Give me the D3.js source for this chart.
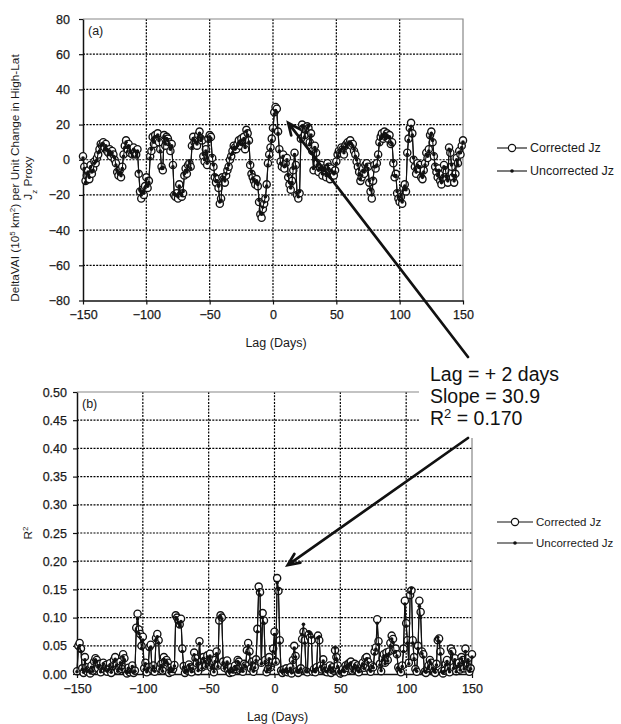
<!DOCTYPE html>
<html>
<head>
<meta charset="utf-8">
<script src="https://cdn.jsdelivr.net/npm/d3@7"></script>
<style>
body { margin: 0; background: #fff; }
svg { display: block; font-family: Arial, 'Liberation Sans', sans-serif; }
</style>
</head>
<body>
<svg id="chart" width="621" height="724"></svg>
<script>
// lag in days, one value per day
const lags = d3.range(-150, 151);

// panel (a): DeltaVAI per unit change, corrected / uncorrected Jz
const corrA = [
  2, -4, -12, -9, -6, -11, -3, -8, -5, -1,
  -2, 1, 3, 6, 9, 8, 10, 7, 9, 5,
  4, 6, 2, 5, 3, 0, -2, -7, -9, -6,
  -10, -4, 3, 8, 11, 6, 9, 4, 5, 3,
  7, 4, 3, 6, -8, -18, -22, -17, -20, -15,
  -10, -16, -12, 2, 5, 13, 9, 14, 12, 15,
  10, 6, -4, -6, 14, 8, 13, 12, 10, 5,
  9, -3, -20, -21, -19, -22, -14, -20, -21, -19,
  -9, -5, -8, -3, -2, -4, 8, 13, 10, 11,
  8, 14, 16, 12, 11, 2, -1, 6, -3, 12,
  14, 13, 1, -4, -10, -13, -11, -16, -25, -22,
  -10, -11, -13, -9, -6, -4, 0, 2, 5, 8,
  7, 6, 9, 11, 8, 12, 10, 13, 6, 17,
  15, 11, -3, -8, -10, -12, -14, -11, -15, -24,
  -31, -33, -28, -25, -22, -14, -2, 3, 7, 12,
  18, 27, 30, 29, 16, 6, -1, -4, 3, -5,
  -2, 1, -10, -14, -17, -12, -6, 4, -3, -20,
  -22, -19, 12, 20, 18, 14, 17, 19, 18, 10,
  15, 5, -6, 8, 4, -2, -7, -4, -3, -9,
  -5, -6, -10, -2, -4, -11, -5, -8, -9, -6,
  -1, 3, 5, 4, 7, 6, 3, 8, 9, 10,
  9, 11, 8, 9, 5, 3, -1, -4, -7, -12,
  -10, -5, -8, -3, -2, -4, -13, -18, -22, -12,
  -3, -5, -2, 3, 10, 13, 15, 12, 16, 13,
  15, 12, 14, 9, 10, -2, -10, -8, -19, -22,
  -24, -21, -25, -16, -14, -18, 4, 12, 18, 21,
  15, 0, -4, -8, -2, -5, -3, -10, -11, -6,
  -2, 4, 1, 6, 14, 16, 10, 2, -4, -7,
  -10, -5, -12, -14, -8, -3, -6, -11, -13, 7,
  4, -4, -10, -13, -8, 1, -2, 5, 3, 8,
  11
];
const uncorrA = [
  1, -5, -13, -8, -7, -10, -4, -7, -6, -2,
  -1, 0, 4, 5, 8, 9, 9, 6, 8, 6,
  3, 5, 3, 4, 2, 1, -3, -6, -8, -7,
  -9, -5, 2, 7, 10, 7, 8, 5, 4, 2,
  6, 5, 2, 5, -7, -17, -20, -18, -19, -16,
  -11, -15, -13, 1, 6, 12, 10, 13, 13, 14,
  11, 5, -5, -5, 13, 9, 12, 11, 9, 6,
  8, -4, -19, -20, -20, -21, -15, -19, -20, -18,
  -8, -6, -7, -4, -1, -5, 7, 12, 11, 10,
  9, 13, 15, 11, 12, 3, 0, 5, -2, 11,
  13, 12, 2, -3, -9, -12, -12, -15, -24, -23,
  -11, -10, -12, -8, -5, -3, 1, 3, 4, 7,
  6, 7, 8, 10, 9, 11, 9, 12, 7, 16,
  14, 10, -2, -7, -11, -11, -13, -12, -14, -23,
  -30, -31, -27, -24, -21, -15, -3, 2, 6, 11,
  17, 26, 28, 27, 15, 5, -2, -3, 2, -4,
  -3, 0, -9, -13, -16, -13, -5, 3, -4, -19,
  -21, -18, 11, 19, 19, 13, 16, 18, 19, 9,
  14, 4, -5, 7, 5, -3, -6, -5, -4, -8,
  -6, -5, -9, -3, -5, -10, -6, -7, -8, -7,
  -2, 2, 4, 5, 6, 7, 4, 7, 8, 9,
  10, 10, 9, 8, 6, 2, 0, -3, -8, -11,
  -9, -6, -7, -4, -3, -5, -12, -17, -20, -11,
  -4, -4, -3, 2, 9, 12, 14, 13, 15, 12,
  14, 13, 13, 10, 9, -1, -9, -9, -18, -21,
  -23, -20, -24, -17, -15, -17, 3, 11, 17, 19,
  14, 1, -5, -7, -3, -4, -4, -9, -10, -7,
  -3, 3, 2, 5, 13, 15, 11, 3, -3, -6,
  -9, -6, -11, -13, -9, -4, -5, -10, -12, 6,
  5, -3, -9, -12, -9, 0, -3, 4, 4, 7,
  10
];

// panel (b): R^2, corrected / uncorrected Jz
const corrB = [
  0.005, 0.05, 0.055, 0.045, 0.01, 0.002, 0.03, 0.012, 0.004, 0.008,
  0.001, 0.015, 0.006, 0.022, 0.028, 0.025, 0.01, 0.018, 0.003, 0.012,
  0.02, 0.008, 0.016, 0.004, 0.01, 0.019, 0.002, 0.014, 0.025, 0.03,
  0.018, 0.006, 0.012, 0.022, 0.009, 0.035, 0.028, 0.005, 0.001, 0.011,
  0.003, 0.007, 0.015, 0.002, 0.006, 0.082, 0.107, 0.079, 0.071, 0.05,
  0.066, 0.01, 0.02, 0.003, 0.012, 0.048, 0.052, 0.008, 0.015, 0.004,
  0.064, 0.071, 0.06, 0.01, 0.018, 0.006, 0.03, 0.022, 0.025, 0.02,
  0.002, 0.011, 0.004, 0.009, 0.016, 0.104, 0.1, 0.095, 0.088, 0.098,
  0.045, 0.014, 0.002, 0.008, 0.006, 0.017, 0.012, 0.003, 0.01, 0.038,
  0.028, 0.019, 0.005, 0.058, 0.022, 0.012, 0.03, 0.024, 0.015, 0.033,
  0.02, 0.036, 0.011, 0.018, 0.003, 0.025, 0.04, 0.015, 0.095, 0.104,
  0.1, 0.022, 0.011, 0.018, 0.024, 0.006, 0.002, 0.012, 0.003, 0.008,
  0.015, 0.009, 0.025, 0.022, 0.006, 0.012, 0.004, 0.018, 0.015, 0.042,
  0.055, 0.04, 0.01, 0.022, 0.004, 0.012, 0.026, 0.08, 0.155, 0.145,
  0.02, 0.108, 0.095, 0.025, 0.003, 0.009, 0.03, 0.012, 0.02, 0.045,
  0.075, 0.022, 0.17, 0.147, 0.06, 0.006, 0.002, 0.008, 0.004, 0.01,
  0.003, 0.006, 0.012, 0.001, 0.025, 0.05, 0.032, 0.005, 0.002, 0.008,
  0.01, 0.062, 0.075, 0.06, 0.005, 0.003, 0.07, 0.065, 0.06, 0.004,
  0.009, 0.003, 0.012, 0.068, 0.06, 0.015, 0.008, 0.026, 0.011, 0.004,
  0.003, 0.008, 0.015, 0.002, 0.012, 0.006, 0.042, 0.03, 0.015, 0.005,
  0.001, 0.004, 0.009, 0.003, 0.015, 0.011, 0.018, 0.02, 0.022, 0.006,
  0.012, 0.018, 0.008, 0.015, 0.003, 0.01, 0.016, 0.02, 0.011, 0.028,
  0.03, 0.022, 0.009, 0.004, 0.015, 0.012, 0.04, 0.047, 0.097, 0.058,
  0.018, 0.005, 0.028, 0.035, 0.02, 0.038, 0.025, 0.04, 0.055, 0.068,
  0.062, 0.042, 0.045, 0.035, 0.012, 0.008, 0.003, 0.015, 0.045, 0.13,
  0.09, 0.06, 0.02, 0.14, 0.148, 0.06, 0.03, 0.009, 0.004, 0.05,
  0.13, 0.11, 0.04, 0.035, 0.004, 0.002, 0.01, 0.015, 0.025, 0.02,
  0.012, 0.004, 0.002, 0.018, 0.06, 0.063, 0.04, 0.005, 0.001, 0.006,
  0.018, 0.025, 0.01, 0.003, 0.045, 0.04, 0.012, 0.028, 0.005, 0.015,
  0.02, 0.008, 0.03, 0.025, 0.01, 0.045, 0.015, 0.028, 0.004, 0.01,
  0.035
];
const uncorrB = [
  0.004, 0.045, 0.05, 0.04, 0.008, 0.003, 0.025, 0.01, 0.005, 0.006,
  0.002, 0.012, 0.005, 0.02, 0.025, 0.022, 0.012, 0.015, 0.004, 0.01,
  0.018, 0.007, 0.014, 0.005, 0.008, 0.016, 0.003, 0.012, 0.022, 0.026,
  0.015, 0.005, 0.01, 0.02, 0.008, 0.03, 0.025, 0.004, 0.002, 0.01,
  0.004, 0.006, 0.013, 0.003, 0.005, 0.075, 0.098, 0.072, 0.065, 0.045,
  0.06, 0.008, 0.018, 0.004, 0.01, 0.044, 0.048, 0.007, 0.013, 0.005,
  0.06, 0.066, 0.055, 0.009, 0.015, 0.005, 0.026, 0.02, 0.022, 0.018,
  0.003, 0.01, 0.005, 0.008, 0.014, 0.1, 0.097, 0.09, 0.085, 0.093,
  0.04, 0.012, 0.003, 0.007, 0.005, 0.015, 0.01, 0.004, 0.009, 0.034,
  0.025, 0.017, 0.006, 0.054, 0.02, 0.01, 0.027, 0.022, 0.013, 0.03,
  0.018, 0.032, 0.01, 0.016, 0.004, 0.022, 0.036, 0.013, 0.1, 0.102,
  0.098, 0.02, 0.01, 0.016, 0.021, 0.005, 0.003, 0.01, 0.004, 0.007,
  0.013, 0.008, 0.022, 0.02, 0.005, 0.01, 0.005, 0.016, 0.013, 0.038,
  0.05, 0.036, 0.009, 0.02, 0.005, 0.011, 0.024, 0.075, 0.148, 0.14,
  0.018, 0.1, 0.09, 0.022, 0.004, 0.008, 0.027, 0.01, 0.018, 0.04,
  0.07, 0.02, 0.162, 0.15, 0.055, 0.005, 0.003, 0.007, 0.005, 0.009,
  0.004, 0.005, 0.01, 0.002, 0.022, 0.046, 0.03, 0.004, 0.003, 0.007,
  0.009, 0.07, 0.088, 0.055, 0.004, 0.004, 0.075, 0.072, 0.065, 0.005,
  0.008, 0.004, 0.01, 0.064, 0.066, 0.013, 0.007, 0.023, 0.01, 0.005,
  0.004, 0.007, 0.013, 0.003, 0.01, 0.005, 0.046, 0.027, 0.013, 0.004,
  0.002, 0.005, 0.008, 0.004, 0.013, 0.01, 0.016, 0.018, 0.02, 0.005,
  0.01, 0.016, 0.007, 0.013, 0.004, 0.009, 0.014, 0.018, 0.01, 0.025,
  0.027, 0.02, 0.008, 0.005, 0.013, 0.011, 0.036, 0.044, 0.09, 0.052,
  0.016, 0.006, 0.025, 0.032, 0.018, 0.034, 0.023, 0.036, 0.05, 0.062,
  0.056, 0.038, 0.04, 0.032, 0.01, 0.007, 0.004, 0.013, 0.04, 0.124,
  0.085, 0.055, 0.018, 0.145, 0.152, 0.055, 0.027, 0.008, 0.005, 0.045,
  0.12, 0.1, 0.036, 0.03, 0.005, 0.003, 0.009, 0.013, 0.022, 0.018,
  0.01, 0.005, 0.003, 0.016, 0.065, 0.058, 0.036, 0.004, 0.002, 0.005,
  0.016, 0.022, 0.009, 0.004, 0.04, 0.036, 0.01, 0.025, 0.004, 0.013,
  0.018, 0.007, 0.027, 0.022, 0.009, 0.04, 0.013, 0.025, 0.005, 0.009,
  0.03
];

const lagTicks = [-150, -100, -50, 0, 50, 100, 150];
const ticksA = [-80, -60, -40, -20, 0, 20, 40, 60, 80];
const ticksB = [0, 0.05, 0.10, 0.15, 0.20, 0.25, 0.30, 0.35, 0.40, 0.45, 0.50];
const legendLabels = ["Corrected Jz", "Uncorrected Jz"];
const noteLines = ["Lag = + 2 days", "Slope = 30.9", "R\u00b2 = 0.170"];

const svg = d3.select('#chart');
const ink = '#111';

function drawPanel(o) {
    const x = d3.scaleLinear().domain([-150, 150]).range([o.left, o.right]);
    const y = d3.scaleLinear().domain(o.yDomain).range([o.bottom, o.top]);
    const g = svg.append('g');

    // dotted grid
    g.append('g').selectAll('line').data(lagTicks.slice(1, -1)).join('line')
        .attr('x1', d => x(d)).attr('x2', d => x(d))
        .attr('y1', o.top).attr('y2', o.bottom)
        .attr('stroke', '#000').attr('stroke-width', 1.2).attr('stroke-dasharray', '2,1.3');
    g.append('g').selectAll('line').data(o.yTicks.slice(1, -1)).join('line')
        .attr('y1', d => y(d)).attr('y2', d => y(d))
        .attr('x1', o.left).attr('x2', o.right)
        .attr('stroke', '#000').attr('stroke-width', 1.2).attr('stroke-dasharray', '2,1.3');

    // grey frame top/right
    g.append('path')
        .attr('d', `M${o.left},${o.top}H${o.right}V${o.bottom}`)
        .attr('fill', 'none').attr('stroke', '#888').attr('stroke-width', 1.2);

    const yAxis = g.append('g')
        .attr('transform', `translate(${o.left},0)`)
        .call(d3.axisLeft(y).tickValues(o.yTicks).tickFormat(o.fmt).tickSize(4).tickSizeOuter(0).tickPadding(o.padY));
    const xAxis = g.append('g')
        .attr('transform', `translate(0,${o.bottom})`)
        .call(d3.axisBottom(x).tickValues(lagTicks).tickSize(4).tickSizeOuter(0).tickPadding(6));
    [yAxis, xAxis].forEach(a => {
        a.select('.domain').attr('stroke', ink).attr('stroke-width', 1.5);
        a.selectAll('.tick line').attr('stroke', ink).attr('stroke-width', 1.2);
        a.selectAll('text').attr('font-size', 12.5).attr('fill', '#1a1a1a')
            .attr('stroke', '#1a1a1a').attr('stroke-width', 0.25)
            .attr('font-family', "Arial, 'Liberation Sans', sans-serif");
    });

    // series
    const line = d3.line().x((d, i) => x(lags[i])).y(d => y(d));
    g.append('path').datum(o.corr).attr('d', line)
        .attr('fill', 'none').attr('stroke', ink).attr('stroke-width', 1.1);
    g.append('g').selectAll('circle').data(o.corr).join('circle')
        .attr('cx', (d, i) => x(lags[i])).attr('cy', d => y(d)).attr('r', 3.6)
        .attr('fill', '#fff').attr('stroke', ink).attr('stroke-width', 1.35);
    g.append('path').datum(o.uncorr).attr('d', line)
        .attr('fill', 'none').attr('stroke', ink).attr('stroke-width', 1.1);
    g.append('g').selectAll('circle').data(o.uncorr).join('circle')
        .attr('cx', (d, i) => x(lags[i])).attr('cy', d => y(d)).attr('r', 1.8)
        .attr('fill', ink);

    // panel tag
    g.append('text').attr('x', o.left + 5).attr('y', o.top + 16)
        .attr('font-size', 12.5).attr('fill', '#1a1a1a').text(o.tag);

    // x title
    g.append('text').attr('x', (o.left + o.right) / 2 + 3).attr('y', o.xTitleY)
        .attr('text-anchor', 'middle').attr('font-size', 12.5).attr('fill', '#1a1a1a')
        .text('Lag (Days)');

    // legend
    const lg = g.append('g').selectAll('g').data(legendLabels).join('g')
        .attr('transform', (d, i) => `translate(${o.legX},${o.legY + i * o.legGap})`);
    lg.append('line').attr('x1', 0).attr('x2', o.legLen)
        .attr('stroke', ink).attr('stroke-width', 1.1);
    lg.filter((d, i) => i === 0).append('circle')
        .attr('cx', o.legLen / 2).attr('r', 3.6)
        .attr('fill', '#fff').attr('stroke', ink).attr('stroke-width', 1.2);
    lg.filter((d, i) => i === 1).append('circle')
        .attr('cx', o.legLen / 2).attr('r', 1.8).attr('fill', ink);
    lg.append('text').attr('x', o.legLen + 3).attr('dy', '0.35em')
        .attr('font-size', o.legFont).attr('fill', '#1a1a1a').text(d => d);

    return {x, y};
}

const A = drawPanel({
    left: 83, right: 463, top: 19, bottom: 300.5,
    yDomain: [-80, 80], yTicks: ticksA, fmt: d3.format('d'), padY: 9,
    corr: corrA, uncorr: uncorrA, tag: '(a)', xTitleY: 347,
    legX: 497, legY: 148, legGap: 23, legLen: 30, legFont: 12.5
});
const B = drawPanel({
    left: 77, right: 472, top: 392, bottom: 674,
    yDomain: [0, 0.5], yTicks: ticksB, fmt: d3.format('.2f'), padY: 6,
    corr: corrB, uncorr: uncorrB, tag: '(b)', xTitleY: 721,
    legX: 497, legY: 522, legGap: 21, legLen: 36, legFont: 11.5
});

// y titles
const yt = svg.append('text').attr('transform', 'translate(19,178) rotate(-90)')
    .attr('text-anchor', 'middle').attr('font-size', 11.8).attr('fill', '#1a1a1a');
yt.append('tspan').text('DeltaVAI (10');
yt.append('tspan').attr('baseline-shift', 'super').attr('font-size', 8).text('5');
yt.append('tspan').text(' km');
yt.append('tspan').attr('baseline-shift', 'super').attr('font-size', 8).text('2');
yt.append('tspan').text(') per Unit Change  in High-Lat');
const yt2 = svg.append('text').attr('transform', 'translate(32,178) rotate(-90)')
    .attr('text-anchor', 'middle').attr('font-size', 11.8).attr('fill', '#1a1a1a');
yt2.append('tspan').text('J');
yt2.append('tspan').attr('baseline-shift', 'sub').attr('font-size', 8).text('z');
yt2.append('tspan').text(' Proxy');

const rt = svg.append('text').attr('transform', 'translate(32,533) rotate(-90)')
    .attr('text-anchor', 'middle').attr('font-size', 11.8).attr('fill', '#1a1a1a');
rt.append('tspan').text('R');
rt.append('tspan').attr('baseline-shift', 'super').attr('font-size', 8).text('2');

// annotation box
svg.append('rect').attr('x', 419).attr('y', 356).attr('width', 150).attr('height', 82)
    .attr('fill', '#fff');
const note = svg.append('g').attr('font-size', 19.5).attr('fill', '#111');
note.append('text').attr('x', 430).attr('y', 381).text(noteLines[0]);
note.append('text').attr('x', 430).attr('y', 403).text(noteLines[1]);
const n3 = note.append('text').attr('x', 430).attr('y', 425);
n3.append('tspan').text('R');
n3.append('tspan').attr('baseline-shift', 'super').attr('font-size', 13).text('2');
n3.append('tspan').text(' = 0.170');

function arrow(x0, y0, x1, y1) {
    const a = Math.atan2(y1 - y0, x1 - x0), L = 13, w = 0.42;
    const p = d3.path();
    p.moveTo(x0, y0); p.lineTo(x1, y1);
    p.moveTo(x1 - L * Math.cos(a - w), y1 - L * Math.sin(a - w));
    p.lineTo(x1, y1);
    p.lineTo(x1 - L * Math.cos(a + w), y1 - L * Math.sin(a + w));
    svg.append('path').attr('d', p.toString()).attr('fill', 'none')
        .attr('stroke', '#111').attr('stroke-width', 2.7).attr('stroke-linecap', 'round');
}
arrow(468, 357, A.x(12), A.y(21));
arrow(468, 438, B.x(10), B.y(0.193));
</script>
</body>
</html>
